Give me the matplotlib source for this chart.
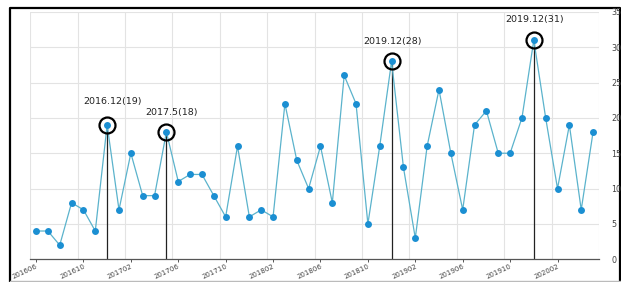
import matplotlib
matplotlib.use("Agg")
import matplotlib.pyplot as plt
from matplotlib.lines import Line2D

# monthly counts 2016.06 - 2020.05
months = []
for y in range(2016, 2021):
    for m in range(1, 13):
        if (y, m) >= (2016, 6) and (y, m) <= (2020, 5):
            months.append(f"{y}{m:02d}")

values = [4, 4, 2, 8, 7, 4, 19, 7, 15, 9, 9, 18,
          11, 12, 12, 9, 6, 16, 6, 7, 6, 22, 14, 10,
          16, 8, 26, 22, 5, 16, 28, 13, 3, 16, 24, 15,
          7, 19, 21, 15, 15, 20, 31, 20, 10, 19, 7, 18]

# highlighted peaks: index, label text
peak_idx = [6, 11, 30, 42]
peak_text = ["2016.12(19)", "2017.5(18)", "2019.12(28)", "2019.12(31)"]
peak_offset = [(5, 19), (5, 15), (1, 15), (1, 16)]

y_ticks = [0, 5, 10, 15, 20, 25, 30, 35]

W, H = 621, 282
fig = plt.figure(figsize=(W / 100, H / 100), dpi=100)
ax = fig.add_axes([30.1 / W, 22.7 / H, (599 - 30.1) / W, 247.5 / H])

x = list(range(len(values)))

# grid lines between categories, every 4 months
for gx in [i - 0.5 for i in range(0, len(values) + 1, 4)]:
    ax.axvline(gx, color="#e3e3e3", lw=0.8, zorder=0)
for gy in y_ticks[1:]:
    ax.axhline(gy, color="#e3e3e3", lw=0.8, zorder=0)

# drop lines at the peaks
for i in peak_idx:
    ax.plot([i, i], [0, values[i]], color="#222222", lw=0.9, zorder=1)

ax.plot(x, values, color="#5bb3cc", lw=0.9, zorder=2)
ax.plot(x, values, "o", color="#1b8fd2", ms=5, mec="none", zorder=3)

for i, txt, off in zip(peak_idx, peak_text, peak_offset):
    ax.plot(i, values[i], "o", mfc="none", mec="black", ms=11.5, mew=1.6, zorder=4)
    ax.annotate(txt, (i, values[i]), xytext=off, textcoords="offset pixels",
                ha="center", va="bottom", fontsize=6.8, color="#222222",
                family="DejaVu Sans")

ax.set_xlim(-0.5, len(values) - 0.5)
ax.set_ylim(0, 35)

ax.set_xticks(x[::4])
ax.set_xticklabels(months[::4], rotation=25, ha="right", rotation_mode="anchor",
                   fontsize=5.0, color="#444444")
ax.tick_params(axis="x", length=2, width=0.7, color="#555555", pad=1)

ax.yaxis.tick_right()
ax.set_yticks(y_ticks)
ax.set_yticklabels([str(v) for v in y_ticks], fontsize=5.8, color="#444444")
ax.tick_params(axis="y", length=0, pad=9)

for s in ["top", "left", "right"]:
    ax.spines[s].set_visible(False)
ax.spines["bottom"].set_color("#555555")
ax.spines["bottom"].set_linewidth(0.9)

# outer frame of the screenshot
def px(xp, yp):
    return xp / W, 1 - yp / H

fr = [px(10, 280.5), px(10, 7.5), px(620, 7.5), px(620, 280.5)]
fig.add_artist(Line2D([p[0] for p in fr], [p[1] for p in fr],
                      color="black", lw=1.6, transform=fig.transFigure, zorder=-1))
fig.add_artist(Line2D([fr[0][0], fr[3][0]], [fr[0][1], fr[3][1]],
                      color="#bbbbbb", lw=1.0, transform=fig.transFigure, zorder=-1))

fig.savefig("out.png", dpi=100)
